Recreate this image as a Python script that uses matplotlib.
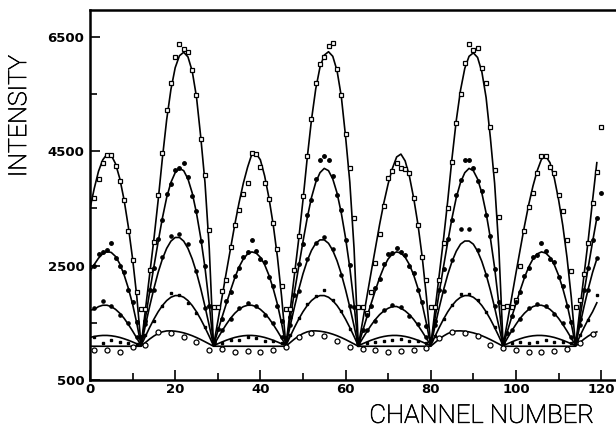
#!/usr/bin/env python3
"""Intensity vs channel number: measured points with their fitted curves."""

import matplotlib
matplotlib.use("Agg")
import matplotlib.pyplot as plt
import matplotlib.patheffects as pe
from matplotlib.ticker import FixedLocator

# ---------------------------------------------------------------------------
# Data
# ---------------------------------------------------------------------------

# fitted curves, one value per channel 0..119
fit_channels = list(range(120))

fit_a = [
    3500, 3850, 4150, 4350, 4450, 4430, 4280, 4020, 3650, 3180, 2620, 1950, 1100,
    1720, 2340, 2960, 3640, 4380, 5050, 5580, 5960, 6170, 6230, 6150, 5900, 5450, 4750, 3950, 2800, 1100,
    1520, 1950, 2380, 2800, 3220, 3600, 3940, 4220, 4450, 4460, 4350, 4070, 3690, 3225, 2655, 1950, 1100,
    1720, 2340, 2960, 3640, 4380, 5050, 5590, 5970, 6180, 6240, 6160, 5910, 5460, 4760, 3960, 2800, 1100,
    1520, 1950, 2380, 2800, 3220, 3600, 3930, 4200, 4400, 4450, 4330, 4060, 3680, 3220, 2650, 1950, 1100,
    1720, 2340, 2960, 3640, 4380, 5040, 5570, 5950, 6160, 6220, 6140, 5890, 5440, 4740, 3940, 2790, 1100,
    1515, 1940, 2365, 2780, 3190, 3565, 3890, 4160, 4360, 4415, 4300, 4035, 3660, 3205, 2640, 1945, 1100,
    1720, 2340, 2960, 3640, 4300,
]

fit_b = [
    2400, 2520, 2630, 2710, 2745, 2730, 2660, 2530, 2340, 2105, 1826, 1486, 1100,
    1574, 2036, 2480, 2917, 3332, 3690, 3955, 4125, 4200, 4160, 4015, 3770, 3420, 2985, 2464, 1825, 1100,
    1352, 1598, 1834, 2067, 2288, 2476, 2616, 2705, 2740, 2719, 2646, 2517, 2334, 2103, 1826, 1486, 1100,
    1574, 2036, 2480, 2917, 3332, 3690, 3955, 4125, 4200, 4160, 4015, 3770, 3420, 2985, 2464, 1825, 1100,
    1352, 1598, 1834, 2067, 2288, 2476, 2616, 2705, 2740, 2719, 2646, 2517, 2334, 2103, 1826, 1486, 1100,
    1574, 2036, 2480, 2917, 3332, 3690, 3955, 4125, 4200, 4160, 4015, 3770, 3420, 2985, 2464, 1825, 1100,
    1352, 1598, 1834, 2067, 2288, 2476, 2616, 2705, 2740, 2719, 2646, 2517, 2334, 2103, 1826, 1486, 1100,
    1574, 2036, 2480, 2917, 3332,
]

fit_c = [
    1720, 1735, 1783, 1807, 1807, 1783, 1735, 1667, 1579, 1473, 1356, 1231, 1100,
    1450, 1786, 2099, 2381, 2616, 2801, 2928, 2992, 2992, 2928, 2801, 2616, 2381, 2099, 1786, 1450, 1100,
    1231, 1356, 1473, 1579, 1667, 1735, 1783, 1807, 1807, 1783, 1735, 1667, 1579, 1473, 1356, 1231, 1100,
    1445, 1775, 2080, 2355, 2585, 2765, 2890, 2950, 2950, 2890, 2765, 2585, 2355, 2080, 1775, 1445, 1100,
    1226, 1345, 1457, 1558, 1643, 1708, 1754, 1785, 1785, 1754, 1708, 1643, 1558, 1457, 1345, 1226, 1100,
    1440, 1768, 2073, 2345, 2573, 2752, 2875, 2930, 2930, 2875, 2752, 2573, 2345, 2073, 1768, 1440, 1100,
    1231, 1356, 1473, 1579, 1667, 1735, 1783, 1807, 1807, 1783, 1735, 1667, 1579, 1473, 1356, 1231, 1100,
    1450, 1786, 2099, 2381, 2616,
]

fit_d = [
    1244, 1261, 1273, 1279, 1279, 1273, 1261, 1244, 1221, 1195, 1165, 1133, 1100,
    1262, 1418, 1563, 1693, 1802, 1888, 1947, 1976, 1976, 1947, 1888, 1802, 1693, 1563, 1418, 1262, 1100,
    1133, 1165, 1195, 1221, 1244, 1261, 1273, 1279, 1279, 1273, 1261, 1244, 1221, 1195, 1165, 1133, 1100,
    1262, 1418, 1563, 1693, 1802, 1888, 1947, 1976, 1976, 1947, 1888, 1802, 1693, 1563, 1418, 1262, 1100,
    1133, 1165, 1195, 1221, 1244, 1261, 1273, 1279, 1279, 1273, 1261, 1244, 1221, 1195, 1165, 1133, 1100,
    1262, 1418, 1563, 1693, 1802, 1888, 1947, 1976, 1976, 1947, 1888, 1802, 1693, 1563, 1418, 1262, 1100,
    1133, 1165, 1195, 1221, 1244, 1261, 1273, 1279, 1279, 1273, 1261, 1244, 1221, 1195, 1165, 1133, 1100,
    1262, 1418, 1563, 1693, 1850,
]

fit_e = [
    1090, 1090, 1090, 1090, 1090, 1090, 1090, 1090, 1090, 1090, 1090, 1090, 1090,
    1154, 1216, 1269, 1312, 1342, 1358, 1359, 1353, 1341, 1324, 1301, 1274, 1242, 1207, 1169, 1130, 1090,
    1090, 1090, 1090, 1090, 1090, 1090, 1090, 1090, 1090, 1090, 1090, 1090, 1090, 1090, 1090, 1090, 1090,
    1154, 1216, 1269, 1312, 1342, 1358, 1359, 1353, 1341, 1324, 1301, 1274, 1242, 1207, 1169, 1130, 1090,
    1090, 1090, 1090, 1090, 1090, 1090, 1090, 1090, 1090, 1090, 1090, 1090, 1090, 1090, 1090, 1090, 1090,
    1154, 1216, 1269, 1312, 1342, 1358, 1359, 1353, 1341, 1324, 1301, 1274, 1242, 1207, 1169, 1130, 1090,
    1090, 1090, 1090, 1090, 1090, 1090, 1090, 1090, 1090, 1090, 1090, 1090, 1090, 1090, 1090, 1090, 1090,
    1154, 1216, 1269, 1312, 1342,
]

# measured points
square_channels = list(range(1, 121))
square_values = [
    3690, 4010, 4300, 4435, 4440, 4240, 3980, 3650, 3110, 2600, 2030, 1740,
    1745, 2430, 2920, 3735, 4465, 5220, 5690, 6150, 6370, 6280, 6235, 5920, 5485, 4710, 4085, 3124, 1770,
    1775, 2050, 2250, 2830, 3210, 3480, 3760, 3940, 4476, 4453, 4218, 3940, 3660, 3250, 2784, 2150, 1740,
    1750, 2420, 3020, 3718, 4418, 5060, 5690, 6025, 6140, 6340, 6385, 5940, 5485, 4810, 4200, 3328, 1780,
    1780, 1665, 2045, 2540, 3050, 3543, 4026, 4160, 4300, 4210, 4185, 4115, 3678, 3210, 2650, 2250, 1780,
    1770, 2250, 2900, 3513, 4318, 4987, 5500, 6050, 6375, 6270, 6300, 5950, 5690, 4930, 4173, 3345, 1780,
    1790, 1780, 1900, 2500, 3100, 3520, 3766, 4126, 4418, 4418, 4220, 4115, 3735, 3460, 2950, 2400, 1780,
    1900, 2350, 2900, 3600, 4143, 4930,
]

dot_channels = list(range(1, 121))
dot_values = [
    2500, 2700, 2740, 2780, 2890, 2640, 2490, 2390, 2080, 1870, 1520, 1250,
    1530, 2080, 2450, 2970, 3300, 3760, 3920, 4180, 4200, 4290, 4050, 3720, 3460, 2930, 2500, 1790, 1180,
    1400, 1560, 1880, 2030, 2320, 2450, 2650, 2740, 2950, 2760, 2610, 2560, 2300, 2150, 1790, 1530, 1230,
    1610, 1990, 2530, 2880, 3380, 3650, 4010, 4350, 4418, 4350, 4060, 3740, 3480, 2950, 2510, 1780, 1200,
    1380, 1630, 1800, 2110, 2260, 2520, 2700, 2720, 2800, 2730, 2680, 2490, 2370, 2080, 1860, 1450, 1220,
    1540, 2070, 2440, 2960, 3300, 3730, 3990, 4350, 4350, 4200, 3980, 3800, 3390, 3020, 2440, 1870, 1190,
    1330, 1620, 1860, 2040, 2310, 2450, 2650, 2690, 2900, 2750, 2620, 2560, 2300, 2140, 1790, 1520, 1200,
    1560, 2080, 2450, 2950, 3330, 3765,
]

odd_channels = list(range(1, 120, 2))
small_dot_values = [
    1760, 1880, 1800, 1640, 1500, 1260,
    1480, 2070, 2650, 3020, 3054, 2880, 2400, 1760, 1150,
    1380, 1560, 1760, 1840, 1800, 1640, 1490, 1260,
    1470, 2050, 2610, 2900, 3000, 2790, 2330, 1800, 1150,
    1370, 1530, 1720, 1810, 1770, 1620, 1480, 1250,
    1460, 2050, 2600, 3140, 3140, 2770, 2330, 1790, 1140,
    1380, 1560, 1760, 1830, 1800, 1650, 1490, 1250,
    1470, 2080, 2640,
]
tiny_dot_values = [
    1250, 1150, 1200, 1170, 1140, 1130,
    1290, 1540, 1800, 2027, 1987, 1841, 1665, 1430, 1130,
    1150, 1200, 1200, 1250, 1230, 1190, 1180, 1140,
    1280, 1580, 1830, 1960, 2080, 1900, 1700, 1400, 1120,
    1150, 1170, 1187, 1200, 1210, 1190, 1180, 1150,
    1270, 1560, 1820, 2000, 2010, 1900, 1690, 1420, 1130,
    1140, 1160, 1153, 1160, 1200, 1170, 1160, 1140,
    1280, 1550, 1990,
]

ring_channels = list(range(1, 119, 3))
ring_values = [
    1030, 1025, 995, 1083, 1110, 1345, 1316, 1258, 1170, 1025,
    1040, 990, 1000, 995, 1030, 1070, 1258, 1316, 1270, 1187,
    1083, 1050, 1030, 990, 1000, 1020, 1060, 1230, 1345, 1316,
    1270, 1112, 1060, 1020, 990, 995, 1010, 1040, 1140, 1300,
]

x_major = [0, 20, 40, 60, 80, 100, 120]
x_minor = [10, 30, 50, 70, 90, 110]
x_labels = ["0", "20", "40", "60", "80", "100", "120"]
y_major = [500, 2500, 4500, 6500]
y_minor = [1500, 3500, 5500]
y_labels = ["500", "2500", "4500", "6500"]


# ---------------------------------------------------------------------------
# Plot
# ---------------------------------------------------------------------------

def main():
    fig = plt.figure(figsize=(6.16, 4.30), dpi=100)
    ax = fig.add_axes([0.1461, 0.1163, 0.8539, 0.8605])

    for fit in (fit_a, fit_b, fit_c, fit_d, fit_e):
        ax.plot(fit_channels, fit, color="black", linewidth=1.2, zorder=2)

    ax.plot(square_channels, square_values, linestyle="none", marker="s", markersize=3.3,
            markerfacecolor="white", markeredgecolor="black", markeredgewidth=0.9, zorder=3)
    ax.plot(dot_channels, dot_values, linestyle="none", marker="o", markersize=2.5,
            color="black", zorder=3)
    ax.plot(odd_channels, small_dot_values, linestyle="none", marker="o", markersize=2.3,
            color="black", zorder=3)
    ax.plot(odd_channels, tiny_dot_values, linestyle="none", marker="s", markersize=2.1,
            color="black", zorder=3)
    ax.plot(ring_channels, ring_values, linestyle="none", marker="o", markersize=3.6,
            markerfacecolor="white", markeredgecolor="black", markeredgewidth=0.9, zorder=3)

    ax.set_xlim(0, 123.5)
    ax.set_ylim(500, 6970)

    ax.xaxis.set_major_locator(FixedLocator(x_major))
    ax.xaxis.set_minor_locator(FixedLocator(x_minor))
    ax.yaxis.set_major_locator(FixedLocator(y_major))
    ax.yaxis.set_minor_locator(FixedLocator(y_minor))
    ax.set_xticklabels(x_labels, fontweight="bold", fontsize=9.5)
    ax.set_yticklabels(y_labels, fontweight="bold", fontsize=9.5)

    ax.tick_params(axis="both", which="both", direction="in", width=1.2,
                   top=False, right=False)
    ax.tick_params(axis="both", which="major", length=7)
    ax.tick_params(axis="both", which="minor", length=5)
    ax.tick_params(axis="x", pad=2)
    ax.tick_params(axis="y", pad=4)

    ax.spines["right"].set_visible(False)
    for side in ("left", "bottom", "top"):
        ax.spines[side].set_linewidth(1.8)

    # thin lettering, darkened with a hairline outline like the scanned labels
    thin = [pe.withStroke(linewidth=0.5, foreground="black")]
    fig.text(0.031, 0.73, "INTENSITY", rotation=90, ha="center", va="center",
             fontsize=18, family="Roboto", fontweight="light", color="black",
             path_effects=thin)
    fig.text(0.7825, 0.033, "CHANNEL NUMBER", ha="center", va="center",
             fontsize=18.5, family="Roboto", fontweight="light", color="black",
             path_effects=thin)

    fig.savefig("out.png", dpi=100)
    plt.close(fig)


if __name__ == "__main__":
    main()
